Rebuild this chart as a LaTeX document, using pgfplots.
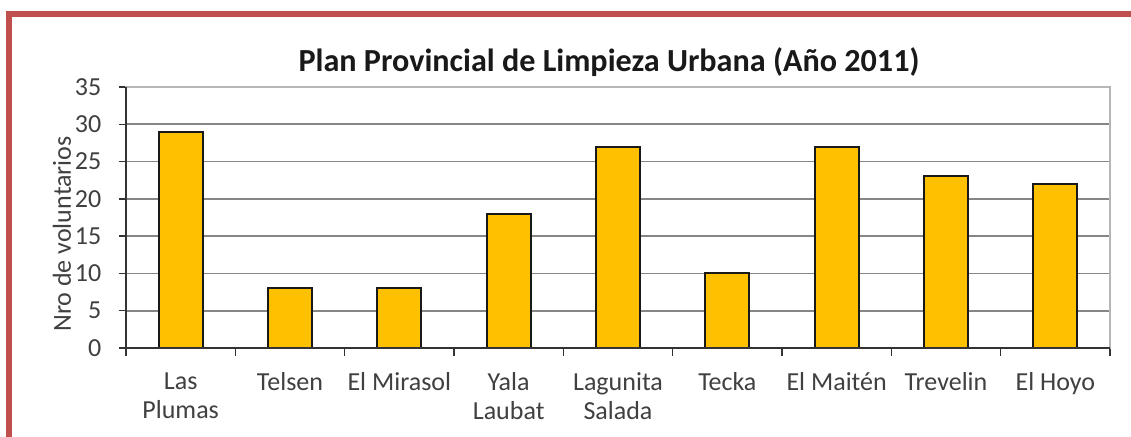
\documentclass[border=0pt]{standalone}
\usepackage{pgfplots}
\pgfplotsset{compat=1.18}
\usepackage{fontspec}
\setmainfont{Carlito}
\definecolor{barc}{HTML}{FFC000}
\definecolor{framec}{HTML}{C0504D}
\definecolor{txt}{HTML}{404040}
\definecolor{gridc}{HTML}{868686}
\begin{document}
\begin{tikzpicture}[x=0.2mm,y=-0.2mm]
\useasboundingbox (0,0) rectangle (1131,437);
\fill[white] (0,0) rectangle (1131,437);
\begin{axis}[
  at={(25.2mm,-69.6mm)}, anchor=south west,
  width=196.8mm, height=52.2mm, scale only axis,
  ybar, bar width=8.8mm,
  xmin=-0.5, xmax=8.5, ymin=0, ymax=35,
  ytick={0,5,...,35},
  xtick={0,...,8},
  xticklabels={{Las\\Plumas},{Telsen},{El Mirasol},{Yala\\Laubat},{Lagunita\\Salada},{Tecka},{El Maitén},{Trevelin},{El Hoyo}},
  xticklabel style={align=center, text=txt, font=\fontsize{14.8}{16.5}\selectfont, yshift=-2.2mm},
  yticklabel style={text=txt, font=\fontsize{14.8}{16}\selectfont, xshift=-2.2mm},
  /pgf/number format/assume math mode=true,
  minor xtick={-0.5,0.5,...,8.5},
  major x tick style={draw=none},
  minor tick length=1.5mm, major tick length=1.5mm,
  tick align=outside,
  xtick pos=bottom, ytick pos=left,
  tick style={draw=black!80, line width=0.3mm},
  ymajorgrids, grid style={gridc, line width=0.35mm},
  axis line style={draw=gridc!60, line width=0.3mm},
  clip=false,
]
\addplot[fill=barc, draw=black!90, line width=0.4mm] coordinates {(0,29) (1,8) (2,8) (3,18) (4,27) (5,10) (6,27) (7,23) (8,22)};
\draw[black!80, line width=0.3mm] (rel axis cs:0,1) -- (rel axis cs:0,0) -- (rel axis cs:1,0);
\end{axis}
\node[rotate=90, text=txt, font=\fontsize{14.8}{16}\selectfont] at (62,234) {Nro de voluntarios};
\node[text=black!90, font=\fontsize{18.3}{21}\selectfont\bfseries] at (609,62) {Plan Provincial de Limpieza Urbana (Año 2011)};
\draw[framec, line width=1.3mm, miter limit=10] (9,437) -- (9,14) -- (1135,14);
\end{tikzpicture}
\end{document}
